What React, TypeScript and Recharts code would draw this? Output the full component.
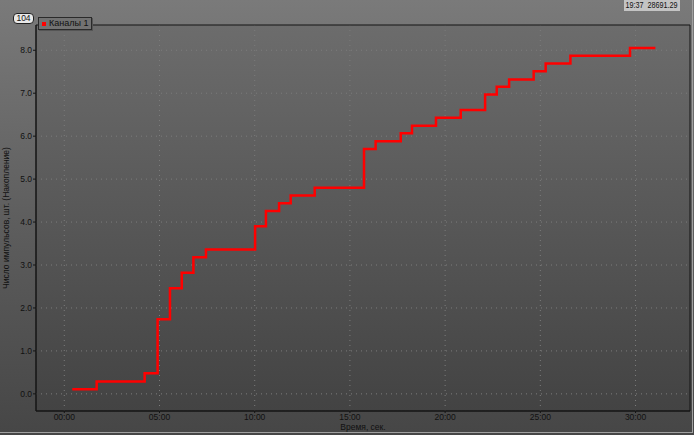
import React from 'react';
import {
  LineChart,
  Line,
  XAxis,
  YAxis,
  CartesianGrid,
  ReferenceArea,
  Legend,
} from 'recharts';

// step times (sec) and accumulated pulse counts
const times = [
  0.42, 1.7, 4.22, 4.9, 5.55, 6.17, 6.78, 7.44, 10.02, 10.59, 11.28, 11.89, 13.15,
  15.74, 16.35, 17.67, 18.26, 19.52, 20.82, 22.1, 22.71, 23.36, 24.65, 25.28, 26.58,
  29.71, 31.04,
];
const counts = [
  0.11, 0.29, 0.48, 1.74, 2.46, 2.82, 3.18, 3.36, 3.9, 4.26, 4.44, 4.62, 4.8,
  5.7, 5.88, 6.07, 6.24, 6.43, 6.61, 6.97, 7.15, 7.32, 7.51, 7.69, 7.87,
  8.05, 8.05,
];
const xTicks = [0, 5, 10, 15, 20, 25, 30];
const yTicks = [0, 1, 2, 3, 4, 5, 6, 7, 8];

const seriesName = 'Каналы 1';
const xTitle = 'Время, сек.';
const yTitle = 'Число импульсов, шт. (Накопление)';

const X_DOMAIN: [number, number] = [-1.486, 32.86];
const Y_DOMAIN: [number, number] = [-0.399, 8.588];

const data = times.map((t, i) => ({ t, v: counts[i] }));

const FONT = "'Liberation Sans Narrow', 'Liberation Sans', Arial, sans-serif";
const FS = 8.5;

const fmtTime = (v: number) => `${String(v).padStart(2, '0')}:00`;

const LegendBox = () => (
  <div
    style={{
      width: 52,
      height: 11,
      border: '1px solid #2a2a2a',
      background: '#727272',
      boxShadow: '1px 1px 0 #555',
      display: 'flex',
      alignItems: 'center',
      fontFamily: FONT,
      fontSize: 9,
      color: '#111',
      lineHeight: 1,
      whiteSpace: 'nowrap',
      overflow: 'hidden',
    }}
  >
    <span style={{ width: 4, height: 4, background: '#ff0000', margin: '0 3px 0 3px', flex: 'none' }} />
    <span>{seriesName}</span>
  </div>
);

export default function App() {
  return (
    <div
      style={{
        position: 'absolute',
        left: 0,
        top: 0,
        width: 694,
        height: 435,
        background: 'linear-gradient(to bottom, #7a7a7a 0%, #5e5e5e 50%, #464646 100%)',
        overflow: 'hidden',
      }}
    >
      <LineChart
        width={694}
        height={435}
        data={data}
        margin={{ top: 12, right: 4, bottom: 0, left: 0 }}
      >
        <defs>
          <linearGradient id="plotBg" x1="0" y1="0" x2="0" y2="1">
            <stop offset="0%" stopColor="#6c6c6c" />
            <stop offset="100%" stopColor="#434343" />
          </linearGradient>
        </defs>
        <CartesianGrid
          fill="url(#plotBg)"
          stroke="#7c7c7c"
          strokeDasharray="1 4"
          horizontalValues={yTicks}
          verticalValues={xTicks}
        />
        <XAxis
          dataKey="t"
          type="number"
          domain={X_DOMAIN}
          allowDataOverflow
          ticks={xTicks}
          tickFormatter={fmtTime}
          height={24}
          axisLine={{ stroke: '#141414' }}
          tickLine={{ stroke: '#141414' }}
          tickSize={2}
          tickMargin={1}
          tick={{ fill: '#111', fontSize: FS, fontFamily: FONT }}
          label={{
            value: xTitle,
            position: 'insideBottom',
            offset: 5,
            fill: '#111',
            fontSize: FS,
            fontFamily: FONT,
          }}
        />
        <YAxis
          type="number"
          domain={Y_DOMAIN}
          allowDataOverflow
          ticks={yTicks}
          tickFormatter={(v: number) => v.toFixed(1)}
          width={36}
          axisLine={{ stroke: '#141414' }}
          tickLine={{ stroke: '#141414' }}
          tickSize={3}
          tickMargin={1}
          tick={{ fill: '#111', fontSize: FS, fontFamily: FONT }}
          label={{
            value: yTitle,
            angle: -90,
            position: 'insideLeft',
            offset: 6,
            fill: '#111',
            fontSize: FS,
            fontFamily: FONT,
            style: { textAnchor: 'middle' },
          }}
        />
        <ReferenceArea
          x1={X_DOMAIN[0]}
          x2={X_DOMAIN[1]}
          y1={Y_DOMAIN[0]}
          y2={Y_DOMAIN[1]}
          fill="none"
          stroke="#141414"
          strokeWidth={1}
          ifOverflow="visible"
        />
        <Legend
          verticalAlign="top"
          align="left"
          wrapperStyle={{ position: 'absolute', left: 38, top: 17, width: 'auto' }}
          content={() => <LegendBox />}
        />
        <Line
          type="stepAfter"
          dataKey="v"
          name={seriesName}
          stroke="#ff0000"
          strokeWidth={2.5}
          dot={false}
          activeDot={false}
          isAnimationActive={false}
        />
      </LineChart>
      {/* header badges */}
      <div
        style={{
          position: 'absolute',
          left: 13,
          top: 13,
          width: 19,
          height: 9,
          border: '1px solid #222',
          borderRadius: 4,
          background: '#e8e8e8',
          fontFamily: FONT,
          fontSize: 8.5,
          lineHeight: '9px',
          textAlign: 'center',
          color: '#111',
        }}
      >
        104
      </div>
      <div
        style={{
          position: 'absolute',
          left: 624,
          top: 0,
          width: 56,
          height: 11,
          background: '#c4c4c4',
          fontFamily: FONT,
          fontSize: 9,
          lineHeight: '11px',
          color: '#111',
          whiteSpace: 'nowrap',
          display: 'flex',
          justifyContent: 'center',
        }}
      >
        <span style={{ display: 'inline-block', transform: 'scaleX(0.8)', whiteSpace: 'pre' }}>
          {'19:37  28691.29'}
        </span>
      </div>
      <div
        style={{
          position: 'absolute',
          left: 0,
          top: 0,
          width: 692,
          height: 432,
          borderRight: '1px solid #a0a0a0',
          borderBottom: '1px solid #a0a0a0',
          pointerEvents: 'none',
        }}
      />
    </div>
  );
}
